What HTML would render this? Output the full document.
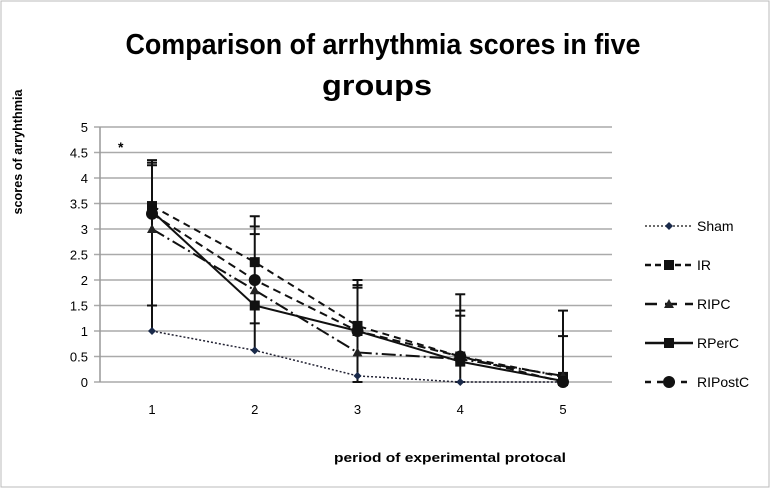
<!DOCTYPE html>
<html><head><meta charset="utf-8"><style>
body{margin:0;background:#fff;width:776px;height:489px;overflow:hidden;font-family:"Liberation Sans",sans-serif}
</style></head><body>
<svg width="776" height="489" id="c" font-family="Liberation Sans, sans-serif">
<rect x="1" y="1" width="768" height="486" fill="#fff" stroke="#bbb"/>
<text x="383" y="54" text-anchor="middle" font-size="29" font-weight="bold" textLength="515" lengthAdjust="spacingAndGlyphs">Comparison of arrhythmia scores in five</text>
<text x="377" y="95" text-anchor="middle" font-size="29" font-weight="bold" textLength="110" lengthAdjust="spacingAndGlyphs">groups</text>
<text transform="translate(22,152) rotate(-90)" text-anchor="middle" font-size="13" font-weight="bold" textLength="125" lengthAdjust="spacingAndGlyphs">scores of arryhthmia</text>
<text x="450" y="462" text-anchor="middle" font-size="13" font-weight="bold" textLength="232" lengthAdjust="spacingAndGlyphs">period of experimental protocal</text>
<text x="118" y="152" font-size="14" font-weight="bold">*</text>
<g id="plot"></g><g id="legend"></g>
</svg>
<script>
const categories=[1,2,3,4,5];
const yTicks=[0,0.5,1,1.5,2,2.5,3,3.5,4,4.5,5];
const seriesNames=["Sham","IR","RIPC","RPerC","RIPostC"];
const sham=[1,0.62,0.12,0,0];
const ir=[3.45,2.35,1.1,0.5,0.1];
const ripc=[3,1.8,0.58,0.45,0.12];
const rperc=[3.35,1.5,1.0,0.4,0.02];
const ripostc=[3.3,2.0,1.0,0.5,0];
const errUpper=[[1.5,4.35,4.3,4.25],[3.25,3.05,2.9],[2.0,1.9,1.85],[1.72,1.4,1.3],[1.4,0.9]];
const errLower=[[1.5],[1.15],[0],[0],[0]];
const L=100,R=612,T=127,B=382;
const x=i=>152+i*102.75;
const y=v=>B-(v/5)*(B-T);
const NS="http://www.w3.org/2000/svg";
const plot=document.getElementById('plot'),leg=document.getElementById('legend');
function mk(p,t,a){const e=document.createElementNS(NS,t);for(const k in a)e.setAttribute(k,a[k]);p.appendChild(e);return e;}
yTicks.forEach(v=>{
 const g=mk(plot,'line',{x1:L-6,x2:R,y1:y(v),y2:y(v),stroke:'#aaa','stroke-width':1.5});
 
 
 const t=mk(plot,'text',{x:L-12,y:y(v)+5,'text-anchor':'end','font-size':13});t.textContent=v;
 
 
});
const ax=mk(plot,'line',{x1:L,x2:L,y1:T,y2:B,stroke:'#999','stroke-width':1.5});


categories.forEach((c,i)=>{const t=mk(plot,'text',{x:x(i),y:B+32,'text-anchor':'middle','font-size':13});t.textContent=c;
 
 });
categories.forEach((c,i)=>{
 const vals=errUpper[i].concat(errLower[i]);
 const mx=Math.max(...errUpper[i]);
 const l=mk(plot,'line',{x1:x(i),x2:x(i),y1:y(mx),y2:y(Math.min(...errLower[i],sham[i])),stroke:'#111','stroke-width':2});
 
 
 vals.forEach(v=>{const cp=mk(plot,'line',{x1:x(i)-5,x2:x(i)+5,y1:y(v),y2:y(v),stroke:'#111','stroke-width':2});
  
  });
});
const styles=[
 {d:sham,dash:'2,2',w:1.5,m:'diamond',c:'#223'},
 {d:ir,dash:'7,5',w:2,m:'square',c:'#111'},
 {d:ripc,dash:'14,4,2,4',w:2,m:'triangle',c:'#111'},
 {d:rperc,dash:'',w:2,m:'square',c:'#111'},
 {d:ripostc,dash:'8,5',w:2,m:'circle',c:'#111'}];
function marker(p,m,cx,cy,s){
 if(m==='diamond')return mk(p,'path',{d:`M${cx-4} ${cy}L${cx} ${cy-4}L${cx+4} ${cy}L${cx} ${cy+4}Z`,fill:'#1a2a4a'});
 if(m==='square')return mk(p,'rect',{x:cx-s,y:cy-s,width:2*s,height:2*s,fill:'#111'});
 if(m==='triangle')return mk(p,'path',{d:`M${cx-5} ${cy+4}L${cx} ${cy-5}L${cx+5} ${cy+4}Z`,fill:'#222'});
 return mk(p,'circle',{cx:cx,cy:cy,r:s+1,fill:'#111'});
}
styles.forEach((s,k)=>{
 const pts=s.d.map((v,i)=>x(i)+','+y(v)).join(' ');
 const pl=mk(plot,'polyline',{points:pts,fill:'none',stroke:s.c,'stroke-width':s.w,'stroke-dasharray':s.dash});
 
 
 s.d.forEach((v,i)=>{const m=marker(plot,s.m,x(i),y(v),5);
  
  });
 const ly=226+k*39;
 const ll=mk(leg,'line',{x1:645,x2:693,y1:ly,y2:ly,stroke:'#111','stroke-width':k==0?1.2:2.5,'stroke-dasharray':['2,2','6,4','12,8','','6,6'][k]});
 
 
 const lm=marker(leg,s.m,669,ly,5);
 
 
 const lt=mk(leg,'text',{x:697,y:ly+5,'font-size':14});lt.textContent=seriesNames[k];
 
 
});
</script>
</body></html>
